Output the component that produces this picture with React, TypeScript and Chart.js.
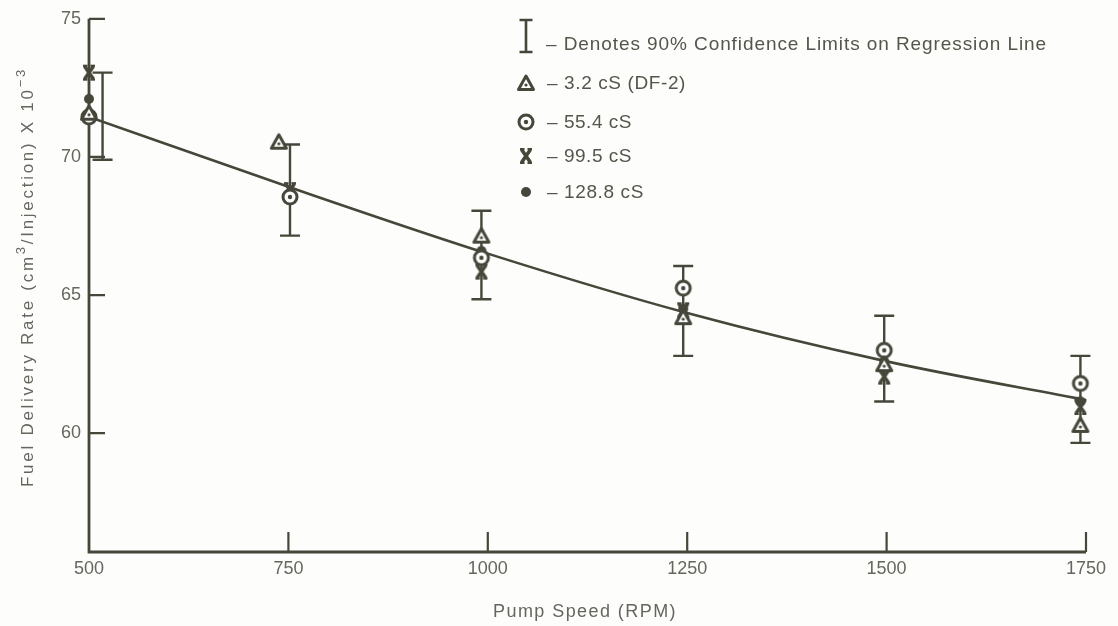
import React, { useEffect, useRef } from 'react';
import { Chart, registerables } from 'chart.js';
Chart.register(...registerables);

// ---- data ----
const speedTicks = [500, 750, 1000, 1250, 1500, 1750];
const rateTicks = [60, 65, 70, 75];
const regSpeed = [500, 750, 1000, 1250, 1500, 1750];
const regRate = [71.45, 68.92, 66.5, 64.35, 62.6, 61.2];
const barSpeed = [517, 752, 992, 1245, 1497, 1743];
const barHigh = [73.05, 70.45, 68.05, 66.05, 64.25, 62.8];
const barLow = [69.9, 67.15, 64.85, 62.8, 61.15, 59.65];
const markSpeed = [500, 752, 992, 1245, 1497, 1743];
const triSpeed = [500, 738, 992, 1245, 1497, 1743];
const triRate = [71.6, 70.55, 67.15, 64.2, 62.5, 60.3];
const circRate = [71.45, 68.55, 66.35, 65.25, 63.0, 61.8];
const xRate = [73.05, 68.8, 65.85, 64.45, 62.05, 60.95];
const dotRate = [72.1, 68.7, 66.6, 64.5, 62.6, 61.15];
const seriesLabels = ['3.2 cS (DF-2)', '55.4 cS', '99.5 cS', '128.8 cS'];
const barLabel = 'Denotes 90% Confidence Limits on Regression Line';
const xTitle = 'Pump Speed (RPM)';

const INK = '#46473a';
const TEXT = '#66665f';
const LEG = '#54554b';
const FONT = '"Liberation Sans", Arial, sans-serif';

function makeCanvas(size: number, draw: (c: CanvasRenderingContext2D, s: number) => void) {
  const cv = document.createElement('canvas');
  cv.width = size;
  cv.height = size;
  const c = cv.getContext('2d')!;
  draw(c, size);
  return cv;
}

const triImg = () =>
  makeCanvas(20, (c, s) => {
    c.strokeStyle = INK;
    c.fillStyle = '#ffffff';
    c.lineWidth = 3;
    c.lineJoin = 'round';
    c.beginPath();
    c.moveTo(s / 2, 3);
    c.lineTo(s - 2.5, s - 3.5);
    c.lineTo(2.5, s - 3.5);
    c.closePath();
    c.fill();
    c.stroke();
    c.fillStyle = INK;
    c.beginPath();
    c.arc(s / 2, s * 0.6, 1.6, 0, Math.PI * 2);
    c.fill();
  });

const circImg = () =>
  makeCanvas(20, (c, s) => {
    c.strokeStyle = INK;
    c.fillStyle = '#ffffff';
    c.lineWidth = 3;
    c.beginPath();
    c.arc(s / 2, s / 2, 7, 0, Math.PI * 2);
    c.fill();
    c.stroke();
    c.fillStyle = INK;
    c.beginPath();
    c.arc(s / 2, s / 2, 2.2, 0, Math.PI * 2);
    c.fill();
  });

const xImg = () =>
  makeCanvas(18, (c, s) => {
    c.strokeStyle = INK;
    c.lineWidth = 3.6;
    c.beginPath();
    c.moveTo(4.5, 2.5);
    c.lineTo(s - 4.5, s - 2.5);
    c.moveTo(s - 4.5, 2.5);
    c.lineTo(4.5, s - 2.5);
    c.stroke();
    c.lineWidth = 2;
    c.beginPath();
    c.moveTo(3, 2);
    c.lineTo(7.5, 2);
    c.moveTo(s - 7.5, 2);
    c.lineTo(s - 3, 2);
    c.moveTo(3, s - 2);
    c.lineTo(7.5, s - 2);
    c.moveTo(s - 7.5, s - 2);
    c.lineTo(s - 3, s - 2);
    c.stroke();
  });

const dotImg = () =>
  makeCanvas(14, (c, s) => {
    c.fillStyle = INK;
    c.beginPath();
    c.arc(s / 2, s / 2, 5, 0, Math.PI * 2);
    c.fill();
  });

function drawBar(c: CanvasRenderingContext2D, x: number, yTop: number, yBot: number, cap: number) {
  c.beginPath();
  c.moveTo(x, yTop);
  c.lineTo(x, yBot);
  c.moveTo(x - cap / 2, yTop);
  c.lineTo(x + cap / 2, yTop);
  c.moveTo(x - cap / 2, yBot);
  c.lineTo(x + cap / 2, yBot);
  c.stroke();
}

// draw text stretched with letter spacing to the width seen in the reference
function fitText(c: CanvasRenderingContext2D, t: string, x: number, y: number, width: number) {
  (c as any).letterSpacing = '0px';
  const w = c.measureText(t).width;
  const ls = Math.max(0, (width - w) / t.length);
  (c as any).letterSpacing = ls + 'px';
  c.fillText(t, x, y);
  (c as any).letterSpacing = '0px';
}

export default function App() {
  const ref = useRef<HTMLCanvasElement | null>(null);

  useEffect(() => {
    if (!ref.current) return;
    const tri = triImg();
    const circ = circImg();
    const ex = xImg();
    const dot = dotImg();
    const markers = [tri, circ, ex, dot];

    const decor = {
      id: 'decor',
      beforeDraw(chart: any) {
        const c = chart.ctx;
        c.save();
        c.fillStyle = '#fdfdfb';
        c.fillRect(0, 0, chart.width, chart.height);
        c.restore();
      },
      beforeDatasetsDraw(chart: any) {
        const c = chart.ctx;
        const xs = chart.scales.x;
        const ys = chart.scales.y;
        const a = chart.chartArea;
        c.save();
        c.strokeStyle = INK;
        c.lineWidth = 2.8;
        c.beginPath();
        c.moveTo(a.left, a.top);
        c.lineTo(a.left, a.bottom);
        c.lineTo(a.right, a.bottom);
        c.stroke();
        c.lineWidth = 2.2;
        c.beginPath();
        rateTicks.forEach((v) => {
          const y = ys.getPixelForValue(v);
          c.moveTo(a.left, y);
          c.lineTo(a.left + 16, y);
        });
        speedTicks.slice(1).forEach((v) => {
          const x = xs.getPixelForValue(v);
          c.moveTo(x, a.bottom);
          c.lineTo(x, a.bottom - 20);
        });
        c.stroke();
        c.lineWidth = 2.4;
        barSpeed.forEach((s, i) => {
          drawBar(c, xs.getPixelForValue(s), ys.getPixelForValue(barHigh[i]), ys.getPixelForValue(barLow[i]), 20);
        });
        c.restore();
      },
      afterDraw(chart: any) {
        const c = chart.ctx;
        c.save();
        // legend
        c.strokeStyle = INK;
        c.lineWidth = 2.6;
        drawBar(c, 526, 20, 52, 13);
        c.fillStyle = LEG;
        c.textBaseline = 'middle';
        c.font = `19px ${FONT}`;
        fitText(c, '\u2013 ' + barLabel, 546, 45, 501);
        const rows = [83, 122, 156, 192];
        const ends = [686, 632, 632, 644];
        markers.forEach((m, i) => {
          c.drawImage(m, 526 - m.width / 2, rows[i] - m.height / 2);
          fitText(c, '\u2013 ' + seriesLabels[i], 547, rows[i] + 1, ends[i] - 547);
        });
        // x title
        c.fillStyle = TEXT;
        c.font = `18px ${FONT}`;
        fitText(c, xTitle, 493, 612, 184);
        // y title with superscripts
        c.translate(28, 277);
        c.rotate(-Math.PI / 2);
        const segs = [
          { t: 'Fuel Delivery Rate (cm', sup: false },
          { t: '3', sup: true },
          { t: '/Injection) X 10', sup: false },
          { t: '\u22123', sup: true },
        ];
        let raw = 0;
        let n = 0;
        segs.forEach((s) => {
          c.font = s.sup ? `13px ${FONT}` : `17px ${FONT}`;
          raw += c.measureText(s.t).width;
          n += s.t.length;
        });
        const ls = Math.max(0, (420 - raw) / n);
        (c as any).letterSpacing = ls + 'px';
        let x = -210;
        segs.forEach((s) => {
          c.font = s.sup ? `13px ${FONT}` : `17px ${FONT}`;
          c.fillText(s.t, x, s.sup ? -7 : 0);
          x += c.measureText(s.t).width;
        });
        c.restore();
      },
    };

    const common = { clip: false as any };
    const chart = new Chart(ref.current, {
      type: 'scatter',
      data: {
        datasets: [
          { ...common, label: seriesLabels[0], data: triSpeed.map((s, i) => ({ x: s, y: triRate[i] })), pointStyle: tri as any },
          { ...common, label: seriesLabels[1], data: markSpeed.map((s, i) => ({ x: s, y: circRate[i] })), pointStyle: circ as any },
          { ...common, label: seriesLabels[3], data: markSpeed.map((s, i) => ({ x: s, y: dotRate[i] })), pointStyle: dot as any },
          { ...common, label: seriesLabels[2], data: markSpeed.map((s, i) => ({ x: s, y: xRate[i] })), pointStyle: ex as any },
          {
            type: 'line',
            label: 'Regression',
            data: regSpeed.map((s, i) => ({ x: s, y: regRate[i] })),
            borderColor: INK,
            borderWidth: 2.6,
            pointRadius: 0,
            cubicInterpolationMode: 'monotone',
            showLine: true,
          } as any,
        ],
      },
      options: {
        animation: false,
        responsive: true,
        maintainAspectRatio: false,
        layout: { padding: { top: 18, right: 32, left: 0, bottom: 0 } },
        plugins: { legend: { display: false }, tooltip: { enabled: false } },
        scales: {
          x: {
            type: 'linear',
            min: 500,
            max: 1750,
            afterBuildTicks: (s: any) => {
              s.ticks = speedTicks.map((v) => ({ value: v }));
            },
            afterFit: (s: any) => {
              s.height = 74;
            },
            grid: { display: false, drawTicks: false, tickLength: 0 },
            border: { display: false },
            ticks: {
              color: TEXT,
              font: { family: FONT, size: 18 },
              padding: 6,
              maxRotation: 0,
              callback: (v: any) => String(v),
            },
          },
          y: {
            type: 'linear',
            min: 55.7,
            max: 75,
            afterBuildTicks: (s: any) => {
              s.ticks = rateTicks.map((v) => ({ value: v }));
            },
            afterFit: (s: any) => {
              s.width = 89;
            },
            grid: { display: false, drawTicks: false, tickLength: 0 },
            border: { display: false },
            ticks: { color: TEXT, font: { family: FONT, size: 18 }, padding: 8, callback: (v: any) => String(v) },
          },
        },
      },
      plugins: [decor],
    });
    return () => chart.destroy();
  }, []);

  return (
    <div style={{ position: 'fixed', left: 0, top: 0, width: 1118, height: 626 }}>
      <canvas ref={ref} />
    </div>
  );
}
